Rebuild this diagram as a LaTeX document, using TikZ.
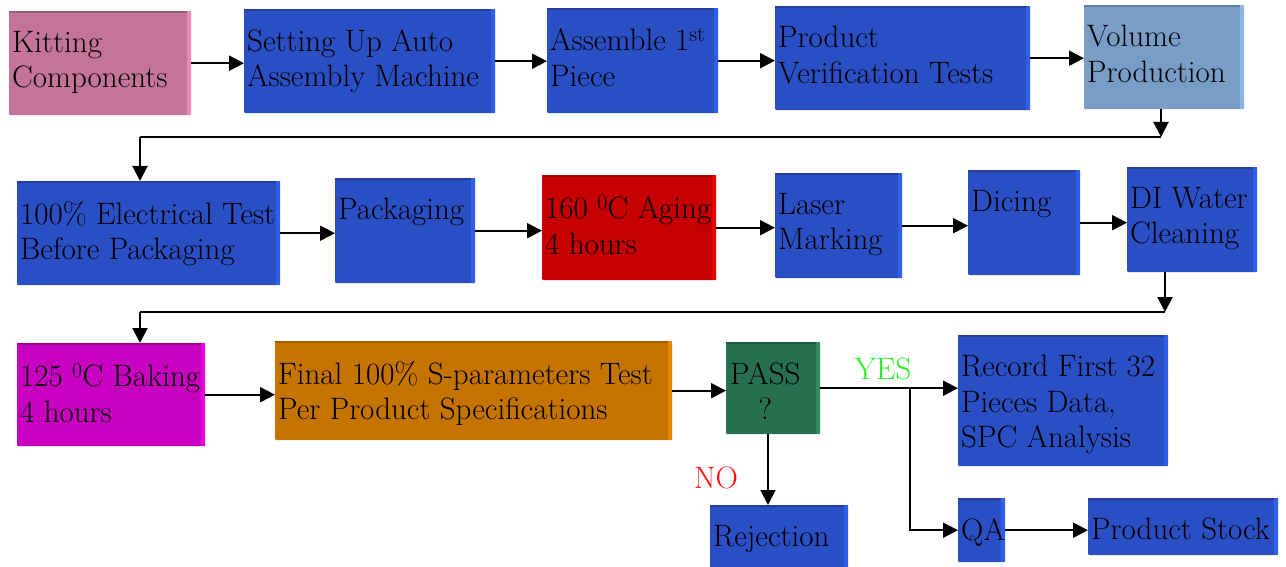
\documentclass[tikz,border=0pt]{standalone}
\usetikzlibrary{arrows.meta}
\definecolor{pinkF}{HTML}{C47499}\definecolor{pinkS}{HTML}{E58BB7}
\definecolor{blueF}{HTML}{2A4FC4}\definecolor{blueS}{HTML}{2E5EEA}
\definecolor{steelF}{HTML}{789DC6}\definecolor{steelS}{HTML}{8DB6E2}
\definecolor{redF}{HTML}{C60000}\definecolor{redS}{HTML}{E80000}
\definecolor{magF}{HTML}{C800C0}\definecolor{magS}{HTML}{E400E0}
\definecolor{orgF}{HTML}{C67400}\definecolor{orgS}{HTML}{E88A00}
\definecolor{grnF}{HTML}{267050}\definecolor{grnS}{HTML}{2E8A5C}
\definecolor{yesC}{HTML}{22EE22}\definecolor{noC}{HTML}{FF1010}
\tikzset{
  boxst/.style={draw=none, rounded corners=1pt, inner sep=0pt},
  txt/.style={inner sep=0pt, align=left, font=\rmfamily\fontsize{31}{35.5}\selectfont},
  arr/.style={line width=2pt, -{Triangle[length=15pt,width=15pt]}},
  ln/.style={line width=2pt},
}
\newcommand\bx[8]{%
  \node[boxst, fill=#6, minimum width=#4pt, minimum height=#5pt, anchor=north west] (#1) at (#2,#3) {};
  \fill[#7] ([xshift=-4pt]#1.north east) rectangle (#1.south east);
  \fill[#6!80!black] (#1.north west) rectangle ([xshift=-4pt,yshift=-2pt]#1.north east);
  \node[txt, anchor=north west] (#1t) at ([xshift=3pt,yshift=-20pt]#1.north west) {#8};
}
\begin{document}
\begin{tikzpicture}[x=1pt,y=-1pt]
\useasboundingbox (0,0) rectangle (1286,567);
\bx{kit}{9}{11}{182}{104}{pinkF}{pinkS}{Kitting\\Components}
\bx{set}{244}{9}{251}{104}{blueF}{blueS}{Setting Up Auto\\Assembly Machine}
\bx{asm}{547}{8}{171}{105}{blueF}{blueS}{Assemble 1\textsuperscript{st}\\Piece}
\bx{pvt}{775}{6}{255}{104}{blueF}{blueS}{Product\\Verification Tests}
\bx{vol}{1084}{5}{160}{104}{steelF}{steelS}{Volume\\Production}
\bx{elec}{17}{181}{263}{104}{blueF}{blueS}{100\% Electrical Test\\Before Packaging}
\bx{pack}{335}{178}{140}{105}{blueF}{blueS}{Packaging}
\bx{age}{542}{175}{174}{105}{redF}{redS}{160 \textsuperscript{0}C Aging\\4 hours}
\bx{laser}{775}{173}{127}{105}{blueF}{blueS}{Laser\\Marking}
\bx{dice}{968}{170}{112}{105}{blueF}{blueS}{Dicing}
\bx{di}{1127}{167}{130}{105}{blueF}{blueS}{DI Water\\Cleaning}
\bx{bake}{17}{343}{188}{103}{magF}{magS}{125 \textsuperscript{0}C Baking\\4 hours}
\bx{fin}{275}{341}{397}{99}{orgF}{orgS}{Final 100\% S-parameters Test\\Per Product Specifications}
\node[boxst, fill=grnF, minimum width=94pt, minimum height=92pt, anchor=north west] (pass) at (726,342) {};
\fill[grnS] ([xshift=-4pt]pass.north east) rectangle (pass.south east);
\fill[grnF!80!black] (pass.north west) rectangle ([xshift=-4pt,yshift=-2pt]pass.north east);
\node[txt, align=center, anchor=north west] (passt) at ([xshift=4pt,yshift=-20pt]pass.north west) {PASS\\?};
\bx{rec}{958}{335}{210}{131}{blueF}{blueS}{Record First 32\\Pieces Data,\\SPC Analysis}
\bx{qa}{958}{498}{47}{64}{blueF}{blueS}{QA}
\bx{stock}{1088}{498}{190}{57}{blueF}{blueS}{Product Stock}
\bx{rej}{710}{505}{138}{64}{blueF}{blueS}{Rejection}
% row 1
\draw[arr] (kit.east) -- (kit.east -| set.west);
\draw[arr] (set.east) -- (set.east -| asm.west);
\draw[arr] (asm.east) -- (asm.east -| pvt.west);
\draw[arr] (pvt.east) -- (pvt.east -| vol.west);
\coordinate (c1) at (1161,137);
\coordinate (c2) at (140,137);
\draw[arr] (vol.south -| c1) -- (c1);
\draw[ln] (c1) -- (c2);
\draw[arr] (c2) -- (elec.north -| c2);
% row 2
\draw[arr] (elec.east) -- (elec.east -| pack.west);
\draw[arr] (pack.east) -- (pack.east -| age.west);
\draw[arr] (age.east) -- (age.east -| laser.west);
\draw[arr] (laser.east) -- (laser.east -| dice.west);
\draw[arr] (dice.east) -- (dice.east -| di.west);
\coordinate (d1) at (1165,312);
\coordinate (d2) at (140,312);
\draw[arr] (di.south -| d1) -- (d1);
\draw[ln] (d1) -- (d2);
\draw[arr] (d2) -- (bake.north -| d2);
% row 3
\draw[arr] (bake.east) -- (bake.east -| fin.west);
\draw[arr] (fin.east) -- (fin.east -| pass.west);
\draw[arr] (pass.east) -- (pass.east -| rec.west);
\coordinate (br) at (910,388);
\draw[arr] (br) |- (qa.west);
\draw[arr] (qa.east) -- (qa.east -| stock.west);
\coordinate (p1) at (768,434);
\draw[arr] (p1) -- (p1 |- rej.north);
\node[txt, text=yesC] (yes) at (883,369) {YES};
\node[txt, text=noC] (no) at (716,478) {NO};
\end{tikzpicture}
\end{document}
